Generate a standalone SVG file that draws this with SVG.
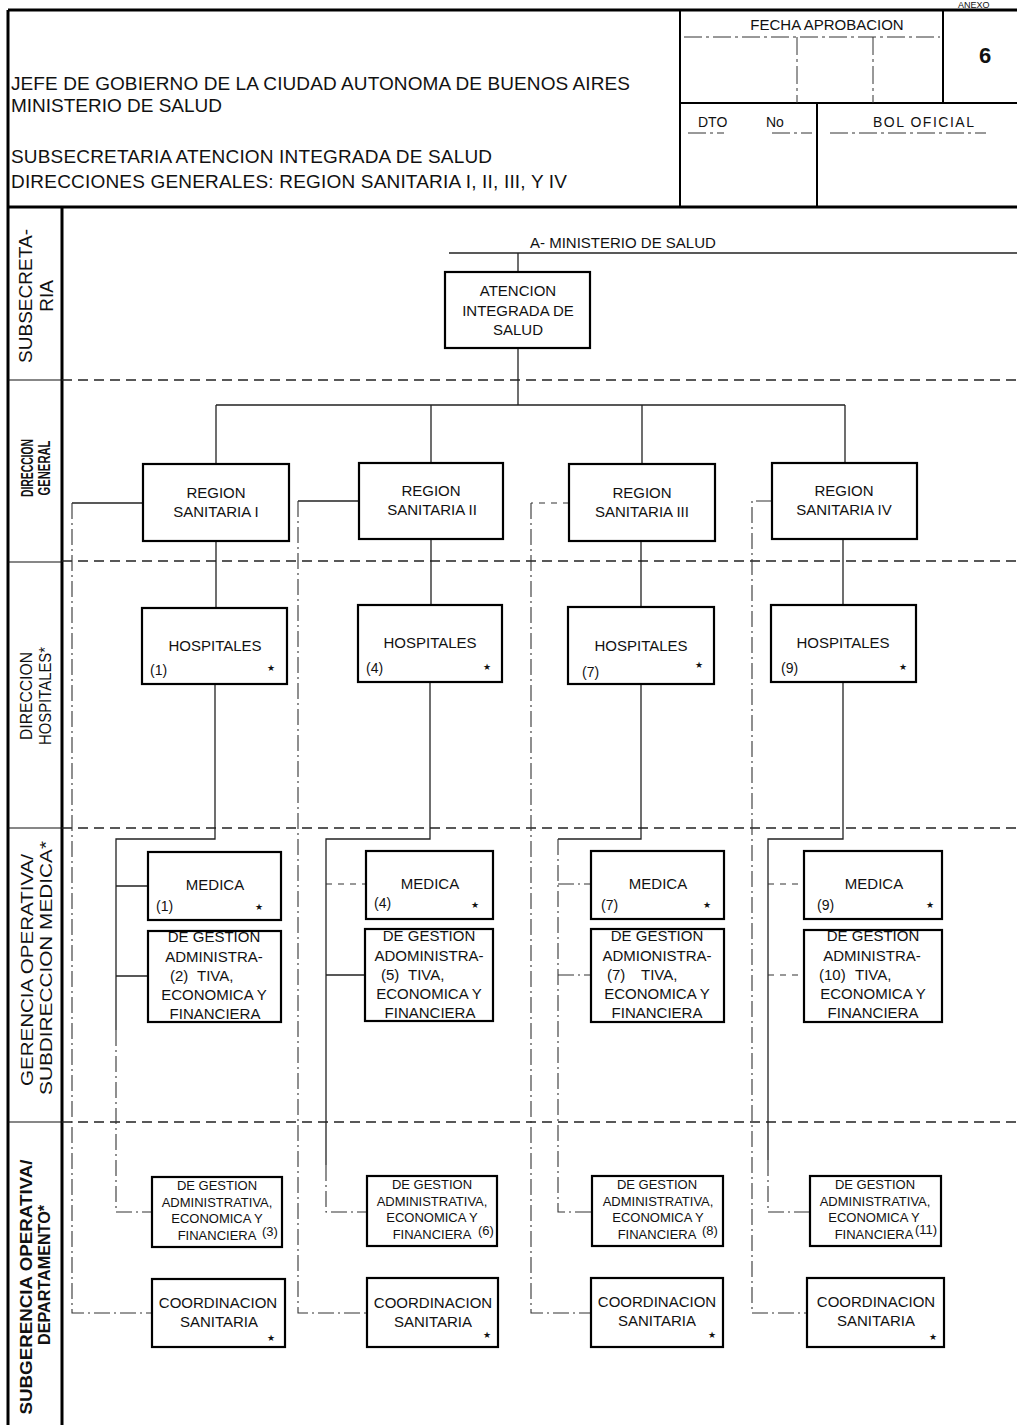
<svg xmlns="http://www.w3.org/2000/svg" width="1017" height="1425" viewBox="0 0 1017 1425">
<style>
  .t{font-family:"Liberation Sans",Arial,Helvetica,sans-serif;fill:#111}
  .m{text-anchor:middle}
  .f15{font-size:15px}
  .f14{font-size:14px}
  .f13{font-size:13px}
  .st{font-family:"DejaVu Sans",sans-serif;font-size:9px;fill:#111;text-anchor:middle}
  .box{fill:#fff;stroke:#000;stroke-width:2.2}
  .frame{fill:none;stroke:#000;stroke-width:3}
  .rule{fill:none;stroke:#000;stroke-width:2}
  .thin{fill:none;stroke:#111;stroke-width:1.2}
  .c{fill:none;stroke:#222;stroke-width:1.3}
  .dd{fill:none;stroke:#333;stroke-width:1.1;stroke-dasharray:16 4 2 4}
  .dash{fill:none;stroke:#333;stroke-width:1.1;stroke-dasharray:6 6}
  .lane{fill:none;stroke:#222;stroke-width:1.6;stroke-dasharray:10 6}
  .hd{fill:none;stroke:#333;stroke-width:1;stroke-dasharray:18 4 3 4}
</style>
<rect width="1017" height="1425" fill="#fff"/>

<!-- title block -->
<g id="header">
  <text class="t" x="958" y="8" style="font-size:9px">ANEXO</text>
  <path class="frame" d="M8 10 H1017 M8 10 V207 M8 207 H1017"/>
  <path class="rule" d="M680 10 V207 M943 10 V103 M680 103 H1017 M817 103 V207"/>
  <path class="hd" d="M684 37 H940"/>
  <path class="hd" d="M797 37 V103 M873 37 V103"/>
  <path class="hd" d="M688 133 H724 M772 133 H812 M830 133 H986"/>
  <text class="t f15 m" x="827" y="30">FECHA APROBACION</text>
  <text class="t m" x="985" y="63" style="font-size:22px;font-weight:bold">6</text>
  <text class="t f14" x="698" y="127">DTO</text>
  <text class="t f14" x="766" y="127">No</text>
  <text class="t f14" x="873" y="127" textLength="101">BOL OFICIAL</text>
  <text class="t" x="11" y="90" style="font-size:19px" textLength="619">JEFE DE GOBIERNO DE LA CIUDAD AUTONOMA DE BUENOS AIRES</text>
  <text class="t" x="11" y="112" style="font-size:19px" textLength="211">MINISTERIO DE SALUD</text>
  <text class="t" x="11" y="163" style="font-size:19px" textLength="481">SUBSECRETARIA ATENCION INTEGRADA DE SALUD</text>
  <text class="t" x="11" y="188" style="font-size:19px" textLength="556">DIRECCIONES GENERALES: REGION SANITARIA I, II, III, Y  IV</text>
</g>

<!-- level column -->
<g id="levels">
  <path class="frame" d="M8 207 V1425 M62 207 V1425"/>
  <path class="thin" d="M8 380 H62 M8 562 H62 M8 828 H62 M8 1122 H62"/>
  <text class="t m" transform="translate(32,296) rotate(-90)" style="font-size:19px" textLength="134">SUBSECRETA-</text>
  <text class="t m" transform="translate(53,296) rotate(-90)" style="font-size:19px">RIA</text>
  <text class="t m" transform="translate(33,468) rotate(-90)" style="font-size:16px;font-weight:bold" textLength="58" lengthAdjust="spacingAndGlyphs">DIRECCION</text>
  <text class="t m" transform="translate(50,468) rotate(-90)" style="font-size:16px;font-weight:bold" textLength="55" lengthAdjust="spacingAndGlyphs">GENERAL</text>
  <text class="t m" transform="translate(32,696) rotate(-90)" style="font-size:16px" textLength="88" lengthAdjust="spacingAndGlyphs">DIRECCION</text>
  <text class="t m" transform="translate(51,696) rotate(-90)" style="font-size:16px" textLength="98" lengthAdjust="spacingAndGlyphs">HOSPITALES*</text>
  <text class="t m" transform="translate(33,970) rotate(-90)" style="font-size:17px" textLength="232" lengthAdjust="spacingAndGlyphs">GERENCIA OPERATIVA/</text>
  <text class="t m" transform="translate(52,968) rotate(-90)" style="font-size:17px" textLength="254" lengthAdjust="spacingAndGlyphs">SUBDIRECCION MEDICA*</text>
  <text class="t m" transform="translate(32,1287) rotate(-90)" style="font-size:16px;font-weight:bold" textLength="255" lengthAdjust="spacingAndGlyphs">SUBGERENCIA OPERATIVA/</text>
  <text class="t m" transform="translate(50,1275) rotate(-90)" style="font-size:16px;font-weight:bold" textLength="140" lengthAdjust="spacingAndGlyphs">DEPARTAMENTO*</text>
</g>

<!-- level separators -->
<g id="lanes">
  <path class="lane" d="M62 380 H1017 M62 561 H1017 M62 828 H1017 M62 1122 H1017"/>
</g>

<!-- connectors -->
<g id="connectors">
  <path class="c" d="M449 253 H1017"/>
  <text class="t f15" x="530" y="248">A- MINISTERIO DE SALUD</text>
  <path class="c" d="M518 253 V272 M518 348 V405 M216 405 H845 M216 405 V464 M431 405 V463 M642 405 V464 M845 405 V463"/>
  <path class="c" d="M216 541 V608 M431 539 V605 M641 541 V607 M843 539 V605"/>
  <!-- hospital to medical / management branches -->
  <path class="c" d="M215 684 V839 H116 V1030 M116 886 H148 M116 976 H148"/>
  <path class="dd" d="M116 1030 V1212 H152"/>
  <path class="c" d="M430 682 V839 H326 V1165 M326 975 H365"/>
  <path class="dash" d="M326 884 H366"/>
  <path class="dd" d="M326 1165 V1212 H367"/>
  <path class="c" d="M641 684 V839 H558"/>
  <path class="dd" d="M558 839 V1212 H592 M558 884 H591 M558 975 H591"/>
  <path class="c" d="M843 682 V839 H768 V1160"/>
  <path class="dash" d="M768 884 H804 M768 975 H804"/>
  <path class="dd" d="M768 1160 V1212 H810"/>
  <!-- region to coordination links -->
  <path class="c" d="M143 503 H72"/>
  <path class="dd" d="M72 503 V1313 H152"/>
  <path class="c" d="M359 501 H298"/>
  <path class="dd" d="M298 501 V1313 H367"/>
  <path class="dash" d="M569 503 H531"/>
  <path class="dd" d="M531 503 V1313 H591"/>
  <path class="dd" d="M772 501 H752 V1313 H807"/>
</g>

<!-- nodes -->
<g id="n-atencion">
  <rect class="box" x="445" y="272" width="145" height="76"/>
  <text class="t f15 m" x="518" y="296">ATENCION</text>
  <text class="t f15 m" x="518" y="316">INTEGRADA DE</text>
  <text class="t f15 m" x="518" y="335">SALUD</text>
</g>

<g id="n-region1">
  <rect class="box" x="143" y="464" width="146" height="77"/>
  <text class="t f15 m" x="216" y="498">REGION</text>
  <text class="t f15 m" x="216" y="517">SANITARIA  I</text>
</g>
<g id="n-region2">
  <rect class="box" x="359" y="463" width="144" height="76"/>
  <text class="t f15 m" x="431" y="496">REGION</text>
  <text class="t f15 m" x="432" y="515">SANITARIA  II</text>
</g>
<g id="n-region3">
  <rect class="box" x="569" y="464" width="146" height="77"/>
  <text class="t f15 m" x="642" y="498">REGION</text>
  <text class="t f15 m" x="642" y="517">SANITARIA  III</text>
</g>
<g id="n-region4">
  <rect class="box" x="772" y="463" width="145" height="76"/>
  <text class="t f15 m" x="844" y="496">REGION</text>
  <text class="t f15 m" x="844" y="515">SANITARIA  IV</text>
</g>

<g id="n-hosp1">
  <rect class="box" x="142" y="608" width="145" height="76"/>
  <text class="t f15 m" x="215" y="651">HOSPITALES</text>
  <text class="t f14" x="150" y="675">(1)</text>
  <text class="st" x="271" y="671">★</text>
</g>
<g id="n-hosp2">
  <rect class="box" x="358" y="605" width="144" height="77"/>
  <text class="t f15 m" x="430" y="648">HOSPITALES</text>
  <text class="t f14" x="366" y="673">(4)</text>
  <text class="st" x="487" y="670">★</text>
</g>
<g id="n-hosp3">
  <rect class="box" x="568" y="607" width="146" height="77"/>
  <text class="t f15 m" x="641" y="651">HOSPITALES</text>
  <text class="t f14" x="582" y="677">(7)</text>
  <text class="st" x="699" y="668">★</text>
</g>
<g id="n-hosp4">
  <rect class="box" x="771" y="605" width="145" height="77"/>
  <text class="t f15 m" x="843" y="648">HOSPITALES</text>
  <text class="t f14" x="781" y="673">(9)</text>
  <text class="st" x="903" y="670">★</text>
</g>

<g id="n-medica1">
  <rect class="box" x="148" y="852" width="133" height="68"/>
  <text class="t f15 m" x="215" y="890">MEDICA</text>
  <text class="t f14" x="156" y="911">(1)</text>
  <text class="st" x="259" y="910">★</text>
</g>
<g id="n-medica2">
  <rect class="box" x="366" y="851" width="127" height="68"/>
  <text class="t f15 m" x="430" y="889">MEDICA</text>
  <text class="t f14" x="374" y="908">(4)</text>
  <text class="st" x="475" y="908">★</text>
</g>
<g id="n-medica3">
  <rect class="box" x="591" y="851" width="133" height="68"/>
  <text class="t f15 m" x="658" y="889">MEDICA</text>
  <text class="t f14" x="601" y="910">(7)</text>
  <text class="st" x="707" y="908">★</text>
</g>
<g id="n-medica4">
  <rect class="box" x="804" y="851" width="138" height="68"/>
  <text class="t f15 m" x="874" y="889">MEDICA</text>
  <text class="t f14" x="817" y="910">(9)</text>
  <text class="st" x="930" y="908">★</text>
</g>

<g id="n-gestion1">
  <rect class="box" x="148" y="931" width="133" height="91"/>
  <text class="t f15 m" x="214" y="942">DE GESTION</text>
  <text class="t f15 m" x="214" y="962">ADMINISTRA-</text>
  <text class="t f15" x="170" y="981">(2)</text>
  <text class="t f15" x="197" y="981">TIVA,</text>
  <text class="t f15 m" x="214" y="1000">ECONOMICA Y</text>
  <text class="t f15 m" x="215" y="1019">FINANCIERA</text>
</g>
<g id="n-gestion2">
  <rect class="box" x="365" y="929" width="128" height="92"/>
  <text class="t f15 m" x="429" y="941">DE GESTION</text>
  <text class="t f15 m" x="429" y="961">ADOMINISTRA-</text>
  <text class="t f15" x="381" y="980">(5)</text>
  <text class="t f15" x="408" y="980">TIVA,</text>
  <text class="t f15 m" x="429" y="999">ECONOMICA Y</text>
  <text class="t f15 m" x="430" y="1018">FINANCIERA</text>
</g>
<g id="n-gestion3">
  <rect class="box" x="591" y="929" width="133" height="93"/>
  <text class="t f15 m" x="657" y="941">DE GESTION</text>
  <text class="t f15 m" x="657" y="961">ADMIONISTRA-</text>
  <text class="t f15" x="607" y="980">(7)</text>
  <text class="t f15" x="641" y="980">TIVA,</text>
  <text class="t f15 m" x="657" y="999">ECONOMICA Y</text>
  <text class="t f15 m" x="657" y="1018">FINANCIERA</text>
</g>
<g id="n-gestion4">
  <rect class="box" x="804" y="930" width="138" height="92"/>
  <text class="t f15 m" x="873" y="941">DE GESTION</text>
  <text class="t f15 m" x="872" y="961">ADMINISTRA-</text>
  <text class="t f15" x="819" y="980">(10)</text>
  <text class="t f15" x="855" y="980">TIVA,</text>
  <text class="t f15 m" x="873" y="999">ECONOMICA Y</text>
  <text class="t f15 m" x="873" y="1018">FINANCIERA</text>
</g>

<g id="n-subgestion1">
  <rect class="box" x="152" y="1177" width="130" height="70"/>
  <text class="t f13 m" x="217" y="1190">DE GESTION</text>
  <text class="t f13 m" x="217" y="1207">ADMINISTRATIVA,</text>
  <text class="t f13 m" x="217" y="1223">ECONOMICA Y</text>
  <text class="t f13 m" x="217" y="1240">FINANCIERA</text>
  <text class="t f13" x="262" y="1236">(3)</text>
</g>
<g id="n-subgestion2">
  <rect class="box" x="367" y="1176" width="130" height="70"/>
  <text class="t f13 m" x="432" y="1189">DE GESTION</text>
  <text class="t f13 m" x="432" y="1206">ADMINISTRATIVA,</text>
  <text class="t f13 m" x="432" y="1222">ECONOMICA Y</text>
  <text class="t f13 m" x="432" y="1239">FINANCIERA</text>
  <text class="t f13" x="478" y="1235">(6)</text>
</g>
<g id="n-subgestion3">
  <rect class="box" x="592" y="1176" width="131" height="70"/>
  <text class="t f13 m" x="657" y="1189">DE GESTION</text>
  <text class="t f13 m" x="658" y="1206">ADMINISTRATIVA,</text>
  <text class="t f13 m" x="658" y="1222">ECONOMICA Y</text>
  <text class="t f13 m" x="657" y="1239">FINANCIERA</text>
  <text class="t f13" x="702" y="1235">(8)</text>
</g>
<g id="n-subgestion4">
  <rect class="box" x="810" y="1176" width="131" height="70"/>
  <text class="t f13 m" x="875" y="1189">DE GESTION</text>
  <text class="t f13 m" x="875" y="1206">ADMINISTRATIVA,</text>
  <text class="t f13 m" x="874" y="1222">ECONOMICA Y</text>
  <text class="t f13 m" x="874" y="1239">FINANCIERA</text>
  <text class="t f13" x="915" y="1234">(11)</text>
</g>

<g id="n-coord1">
  <rect class="box" x="152" y="1279" width="133" height="68"/>
  <text class="t f15 m" x="218" y="1308">COORDINACION</text>
  <text class="t f15 m" x="219" y="1327">SANITARIA</text>
  <text class="st" x="271" y="1341">★</text>
</g>
<g id="n-coord2">
  <rect class="box" x="367" y="1278" width="131" height="69"/>
  <text class="t f15 m" x="433" y="1308">COORDINACION</text>
  <text class="t f15 m" x="433" y="1327">SANITARIA</text>
  <text class="st" x="487" y="1338">★</text>
</g>
<g id="n-coord3">
  <rect class="box" x="591" y="1278" width="132" height="69"/>
  <text class="t f15 m" x="657" y="1307">COORDINACION</text>
  <text class="t f15 m" x="657" y="1326">SANITARIA</text>
  <text class="st" x="712" y="1338">★</text>
</g>
<g id="n-coord4">
  <rect class="box" x="807" y="1278" width="137" height="69"/>
  <text class="t f15 m" x="876" y="1307">COORDINACION</text>
  <text class="t f15 m" x="876" y="1326">SANITARIA</text>
  <text class="st" x="933" y="1340">★</text>
</g>
</svg>
